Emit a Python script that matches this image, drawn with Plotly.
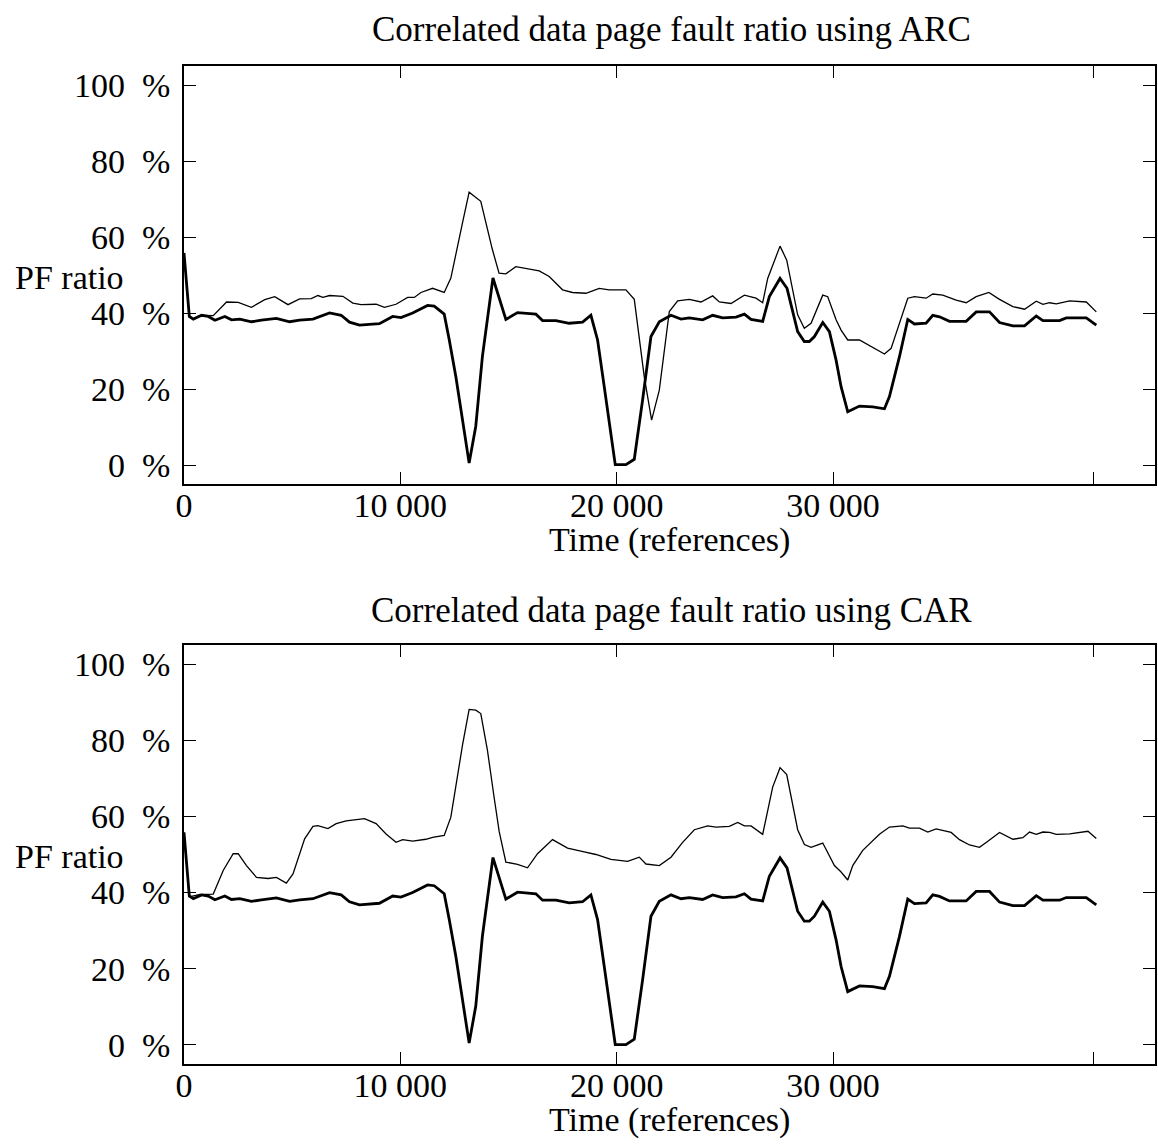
import plotly.graph_objects as go

# ---- data ----
base_t = [0, 246, 430, 814, 1121, 1428, 1889, 2196, 2580, 3118,
          3579, 4270, 4884, 5345, 5960, 6728, 7265, 7649, 8110, 9032,
          9646, 10030, 10568, 11259, 11566, 12027, 12257, 12564, 12872, 13179,
          13486, 13793, 14280, 14877, 15415, 16265, 16573, 17190, 17806, 18422,
          18807, 19116, 19424, 19932, 20426, 20812, 21196, 21583, 21969, 22509,
          22971, 23356, 23973, 24435, 24898, 25514, 25900, 26208, 26747, 27055,
          27549, 27872, 28364, 28672, 28906, 29138, 29524, 29831, 30140, 30371,
          30679, 31219, 31836, 32375, 32606, 33069, 33453, 33761, 34301, 34609,
          34919, 35381, 36152, 36615, 37231, 37694, 38310, 38850, 39392, 39700,
          40470, 40780, 41705, 42167]
base_v = [55.8, 39.1, 38.4, 39.4, 39.1, 38.1, 39.1, 38.2, 38.4, 37.7,
          38.1, 38.6, 37.7, 38.1, 38.4, 40.0, 39.4, 37.6, 36.8, 37.2,
          39.1, 38.8, 40.0, 42.0, 41.8, 39.7, 33.0, 23.3, 11.9, 0.5,
          10.2, 28.6, 49.2, 38.3, 40.1, 39.7, 38.0, 38.0, 37.3, 37.6,
          39.4, 32.9, 20.6, 0.1, 0.1, 1.5, 17.1, 33.8, 37.7, 39.4,
          38.4, 38.7, 38.2, 39.4, 38.7, 38.9, 39.7, 38.3, 37.8, 44.3,
          49.1, 46.5, 35.1, 32.5, 32.5, 33.8, 37.5, 35.1, 27.6, 20.6,
          14.0, 15.5, 15.3, 14.8, 18.0, 28.5, 38.3, 37.1, 37.3, 39.4,
          39.0, 37.8, 37.8, 40.3, 40.3, 37.5, 36.6, 36.6, 39.2, 38.0,
          38.0, 38.7, 38.7, 36.8]

arc_t = [0, 246, 430, 814, 1352, 1966, 2504, 3118, 3733, 4193,
         4808, 5345, 5883, 6190, 6420, 6728, 7342, 7803, 8187, 8878,
         9262, 9800, 10337, 10645, 10952, 11490, 12027, 12334, 12872, 13179,
         13717, 14254, 14561, 14877, 15339, 15955, 16418, 16880, 17497, 17960,
         18576, 19193, 19655, 20426, 20812, 21274, 21613, 21969, 22431, 22817,
         23356, 23896, 24435, 24744, 25283, 25900, 26439, 26747, 26979, 27549,
         27858, 28364, 28672, 28983, 29523, 29754, 30140, 30371, 30679, 31219,
         31758, 32375, 32683, 33069, 33453, 33761, 34301, 34609, 35072, 35689,
         36152, 36615, 37200, 37694, 38310, 38850, 39392, 39700, 40009, 40317,
         40934, 41705, 42167]
arc_v = [55.8, 39.1, 38.4, 39.4, 39.3, 42.9, 42.8, 41.5, 43.5, 44.3,
         42.2, 43.7, 43.8, 44.6, 44.1, 44.6, 44.4, 42.6, 42.2, 42.3,
         41.5, 42.3, 44.1, 44.1, 45.4, 46.5, 45.4, 49.2, 63.7, 71.8,
         69.4, 56.7, 50.5, 50.3, 52.2, 51.5, 51.1, 49.6, 46.1, 45.4,
         45.2, 46.5, 46.1, 46.1, 43.6, 23.2, 11.8, 19.7, 40.4, 43.2,
         43.6, 42.9, 44.5, 42.9, 42.5, 44.7, 43.9, 42.7, 49.1, 57.6,
         53.9, 39.5, 36.0, 37.3, 44.7, 44.3, 38.2, 35.5, 32.9, 32.9,
         31.1, 29.2, 30.7, 37.3, 43.9, 44.3, 43.9, 45.0, 44.7, 43.4,
         42.7, 44.3, 45.4, 43.6, 41.7, 41.0, 43.1, 42.3, 42.7, 42.4,
         43.2, 42.9, 40.3]

car_t = [0, 246, 737, 1352, 1812, 2273, 2504, 2888, 3349, 3886,
         4270, 4731, 5038, 5576, 5960, 6190, 6651, 7035, 7496, 7956,
         8340, 8878, 9339, 9800, 10107, 10568, 11182, 11489, 12027, 12334,
         12872, 13179, 13486, 13717, 14024, 14331, 14569, 14877, 15415, 15878,
         16340, 17034, 17728, 18499, 19039, 19732, 20504, 21043, 21352, 21969,
         22509, 23048, 23588, 24204, 24590, 25206, 25592, 25900, 26208, 26747,
         27209, 27549, 27858, 28364, 28675, 28983, 29523, 30063, 30371, 30679,
         30910, 31373, 32143, 32606, 33223, 33530, 33993, 34379, 34764, 35458,
         35843, 36306, 36768, 37154, 37694, 38310, 38773, 39081, 39392, 39700,
         40009, 40317, 40934, 41782, 42167]
car_v = [55.8, 38.9, 39.5, 39.6, 45.8, 50.2, 50.2, 47.1, 44.0, 43.7,
         44.0, 42.5, 44.9, 54.1, 57.4, 57.6, 56.8, 58.1, 58.8, 59.1,
         59.4, 58.1, 55.4, 53.2, 53.9, 53.5, 54.0, 54.5, 55.0, 59.8,
         78.7, 88.1, 87.9, 87.0, 77.4, 65.1, 56.0, 48.0, 47.4, 46.5,
         50.2, 53.9, 51.7, 50.7, 50.0, 48.7, 48.2, 49.3, 47.5, 47.1,
         49.3, 53.2, 56.5, 57.5, 57.2, 57.4, 58.4, 57.5, 57.5, 55.3,
         67.7, 72.8, 71.0, 56.5, 52.6, 51.9, 53.0, 47.1, 45.4, 43.3,
         47.1, 51.1, 55.3, 57.2, 57.5, 56.9, 56.9, 55.9, 56.7, 55.8,
         53.9, 52.5, 51.9, 53.5, 55.8, 54.0, 54.4, 55.9, 55.3, 55.9,
         55.8, 55.3, 55.4, 56.1, 54.2]

x_tickvals = [0, 10000, 20000, 30000, 42050]
x_ticktext = ["0", "10 000", "20 000", "30 000", ""]
y_tickvals = [0, 20, 40, 60, 80, 100]
y_ticktext = ["0\u2002%", "20\u2002%", "40\u2002%", "60\u2002%", "80\u2002%", "100\u2002%"]

titles = ["Correlated data page fault ratio using ARC",
          "Correlated data page fault ratio using CAR"]
x_title = "Time (references)"
y_title = "PF ratio"

# ---- figure ----
W, H = 1158, 1146
FONT = "Liberation Serif"
FS = 34
FS_T = 35

fig = go.Figure()
for i, (pt, pv) in enumerate([(arc_t, arc_v), (car_t, car_v)]):
    xa = "x" if i == 0 else "x2"
    ya = "y" if i == 0 else "y2"
    fig.add_trace(go.Scatter(x=pt, y=pv, mode="lines", xaxis=xa, yaxis=ya,
                             line=dict(color="black", width=1.3), showlegend=False))
    fig.add_trace(go.Scatter(x=base_t, y=base_v, mode="lines", xaxis=xa, yaxis=ya,
                             line=dict(color="black", width=2.8), showlegend=False))

def px_x(p):
    return p / W

def px_y(p):
    return 1 - p / H

common = dict(showline=True, linecolor="black", linewidth=1.5, mirror="ticks",
              ticks="inside", ticklen=12, tickwidth=1, tickcolor="black",
              showgrid=False, zeroline=False, automargin=False,
              tickfont=dict(family=FONT, size=FS, color="black"))

xdom = [px_x(184), px_x(1155)]
xaxis_cfg = dict(common, range=[0, 44880], tickmode="array",
                 tickvals=x_tickvals, ticktext=x_ticktext, domain=xdom,
                 ticklabelstandoff=-10)
yaxis_cfg = dict(common, range=[-5, 105], tickmode="array",
                 tickvals=y_tickvals, ticktext=y_ticktext, ticklabelstandoff=5)

fig.update_layout(
    width=W, height=H,
    margin=dict(l=0, r=0, t=0, b=0, pad=0),
    paper_bgcolor="white", plot_bgcolor="white",
    xaxis=dict(xaxis_cfg, anchor="y"),
    yaxis=dict(yaxis_cfg, anchor="x", domain=[px_y(484), px_y(66)]),
    xaxis2=dict(xaxis_cfg, anchor="y2"),
    yaxis2=dict(yaxis_cfg, anchor="x2", domain=[px_y(1064), px_y(645)]),
)

ann_font = dict(family=FONT, size=FS, color="black")
tit_font = dict(family=FONT, size=FS_T, color="black")
annos = [
    (titles[0], 671, 30, tit_font),
    (x_title, 669, 540, ann_font),
    (titles[1], 671, 610, tit_font),
    (x_title, 669, 1120, ann_font),
]
for txt, x, y, f in annos:
    fig.add_annotation(text=txt, x=px_x(x), y=px_y(y), xref="paper", yref="paper",
                       xanchor="center", yanchor="middle", showarrow=False, font=f)
for y in (277, 856):
    fig.add_annotation(text=y_title, x=px_x(13), y=px_y(y), xref="paper", yref="paper",
                       xanchor="left", yanchor="middle", showarrow=False, font=ann_font)

fig.write_html("out.html", config={"displayModeBar": False},
               post_script="document.body.style.margin='0';document.body.style.overflow='hidden';")
